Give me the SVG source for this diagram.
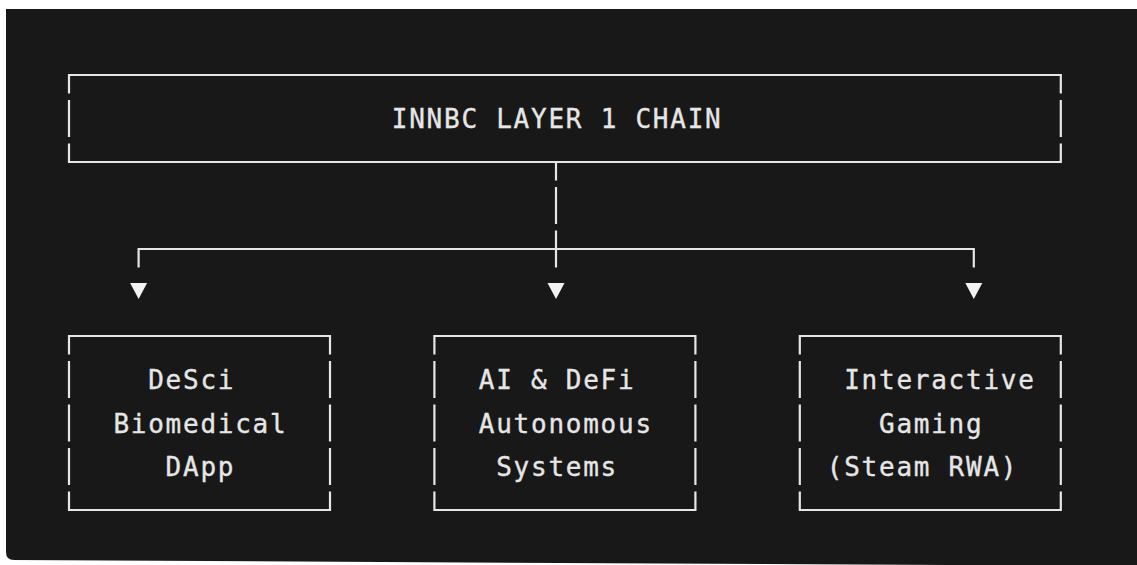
<svg xmlns="http://www.w3.org/2000/svg" width="1137" height="565" viewBox="0 0 1137 565">
<style>
.ln{fill:none;stroke:#e6e6e6;stroke-width:2.2;stroke-linecap:butt;stroke-linejoin:miter}
.tx{font-family:"DejaVu Sans Mono","Liberation Mono",monospace;font-size:26px;letter-spacing:1.75px;fill:#e6e6e6;stroke:#e6e6e6;stroke-width:0.35px}
.ar{fill:#f2f2f2}
</style>
<rect x="0" y="0" width="1137" height="565" fill="#ffffff"/>
<path d="M6,9 H1137 V566 L14,560 Q6,560 6,552 Z" fill="#181818"/>
<g id="node-chain">
<path class="ln" d="M69,93.5 V75 H1060.8 V93.5"/>
<path class="ln" d="M69,100 V137 M1060.8,100 V137"/>
<path class="ln" d="M69,143.5 V162 H1060.8 V143.5"/>
<text class="tx" x="391.8" y="128">INNBC LAYER 1 CHAIN</text>
</g>
<g id="connectors">
<path class="ln" d="M556,162 V180.5 M556,187 V224 M556,230.5 V267.5"/>
<path class="ln" d="M138.6,267.5 V249 H973.8 V267.5"/>
<polygon class="ar" points="130.1,283 147.1,283 138.6,299"/>
<polygon class="ar" points="547.5,283 564.5,283 556,299"/>
<polygon class="ar" points="965.3,283 982.3,283 973.8,299"/>
</g>
<g id="node-desci">
<path class="ln" d="M69,354.5 V336 H330 V354.5"/>
<path class="ln" d="M69,361 V398 M69,404.5 V441.5 M69,448 V485 M330,361 V398 M330,404.5 V441.5 M330,448 V485"/>
<path class="ln" d="M69,491.5 V510 H330 V491.5"/>
<text class="tx" x="148.2" y="389">DeSci</text>
<text class="tx" x="113.4" y="432.5">Biomedical</text>
<text class="tx" x="165.6" y="476">DApp</text>
</g>
<g id="node-ai-defi">
<path class="ln" d="M434.4,354.5 V336 H695.4 V354.5"/>
<path class="ln" d="M434.4,361 V398 M434.4,404.5 V441.5 M434.4,448 V485 M695.4,361 V398 M695.4,404.5 V441.5 M695.4,448 V485"/>
<path class="ln" d="M434.4,491.5 V510 H695.4 V491.5"/>
<text class="tx" x="478.8" y="389">AI &amp; DeFi</text>
<text class="tx" x="478.8" y="432.5">Autonomous</text>
<text class="tx" x="496.2" y="476">Systems</text>
</g>
<g id="node-gaming">
<path class="ln" d="M799.8,354.5 V336 H1060.8 V354.5"/>
<path class="ln" d="M799.8,361 V398 M799.8,404.5 V441.5 M799.8,448 V485 M1060.8,361 V398 M1060.8,404.5 V441.5 M1060.8,448 V485"/>
<path class="ln" d="M799.8,491.5 V510 H1060.8 V491.5"/>
<text class="tx" x="844.2" y="389">Interactive</text>
<text class="tx" x="879" y="432.5">Gaming</text>
<text class="tx" x="826.8" y="476">(Steam RWA)</text>
</g>
</svg>
